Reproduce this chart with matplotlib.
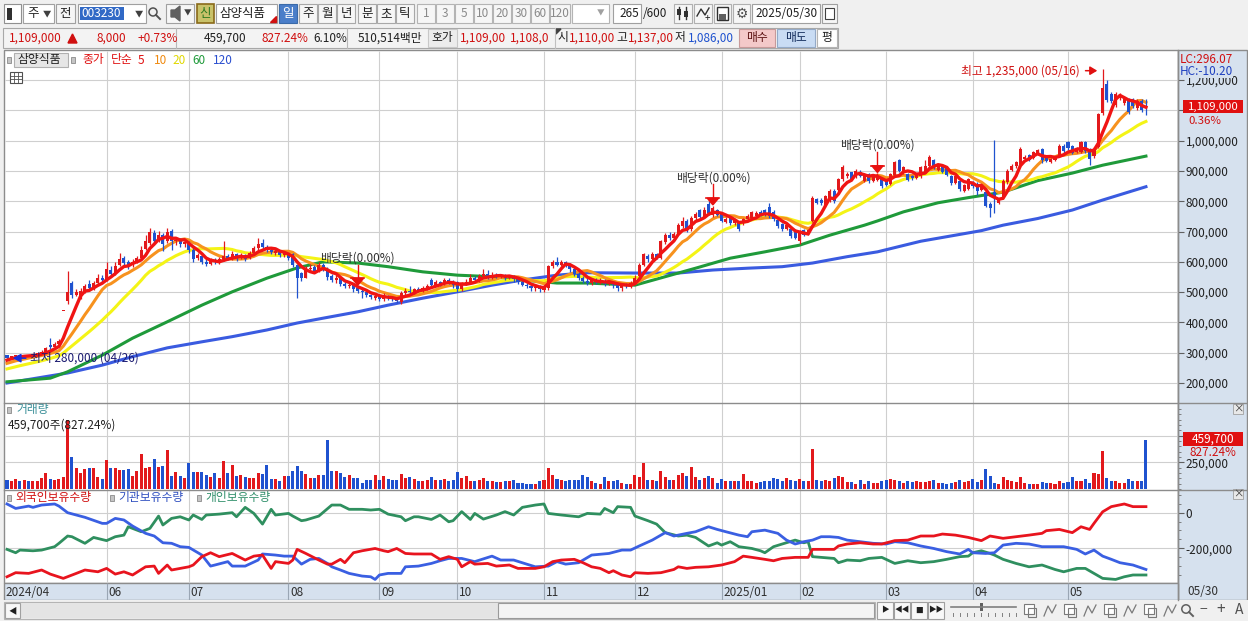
import numpy as np
import pandas as pd
import matplotlib
matplotlib.use("Agg")
import matplotlib.pyplot as plt
from matplotlib.patches import Rectangle, Polygon, Circle

plt.rcParams['font.family'] = ['Noto Sans CJK KR', 'DejaVu Sans']
plt.rcParams['font.size'] = 8.5

# ---------------- data (prices in thousand won, volume in thousand shares) ----------------
stock_name = '삼양식품'
stock_code = '003230'
chart_date = '2025/05/30'

prior_close = [215, 220, 218, 225, 228, 232, 230, 236, 240, 238,
               245, 250, 256, 262, 258, 265, 270, 276, 282]

open_ = [292, 284, 288, 291, 288, 292, 290, 294, 297, 303,
         325, 318, 330, 439, 470, 530, 492, 485, 503, 528,
         512, 530, 548, 540, 572, 562, 590, 612, 600, 588,
         600, 612, 642, 662, 695, 672, 688, 668, 702, 668,
         672, 660, 662, 640, 612, 620, 600, 592, 605, 598,
         608, 620, 612, 625, 612, 622, 612, 628, 645, 662,
         648, 640, 630, 634, 622, 626, 625, 590, 562, 548,
         575, 582, 572, 590, 578, 552, 540, 546, 528, 520,
         525, 512, 505, 500, 490, 480, 488, 478, 486, 480,
         478, 468, 498, 505, 500, 510, 506, 515, 540, 525,
         532, 528, 540, 535, 535, 510, 528, 535, 548, 540,
         552, 560, 548, 558, 552, 556, 548, 552, 542, 535,
         525, 520, 512, 518, 508, 512, 585, 598, 590, 598,
         590, 575, 560, 545, 538, 530, 540, 532, 538, 528,
         535, 522, 515, 525, 520, 530, 552, 590, 620, 608,
         625, 612, 665, 690, 680, 692, 718, 735, 708, 745,
         770, 748, 792, 755, 770, 762, 733, 745, 728, 730,
         727, 740, 745, 750, 765, 770, 780, 765, 738, 725,
         710, 710, 705, 670, 705, 692, 735, 808, 805, 785,
         800, 835, 838, 872, 882, 895, 882, 898, 866, 890,
         868, 870, 875, 868, 858, 888, 935, 895, 890, 884,
         876, 882, 898, 915, 935, 904, 918, 913, 885, 860,
         868, 835, 842, 862, 858, 838, 830, 792, 830, 794,
         810, 862, 904, 915, 916, 938, 952, 942, 958, 972,
         946, 931, 937, 952, 984, 995, 983, 963, 964, 995,
         972, 948, 980, 1090, 1188, 1155, 1118, 1140, 1124, 1138,
         1138, 1107, 1132, 1110]

close = [284, 288, 290, 287, 292, 290, 294, 297, 303, 315,
         318, 330, 338, 439, 500, 490, 502, 505, 520, 512,
         530, 545, 540, 575, 560, 585, 608, 595, 585, 600,
         612, 640, 670, 700, 670, 690, 660, 700, 668, 672,
         660, 665, 640, 610, 622, 598, 592, 605, 598, 608,
         620, 612, 625, 612, 622, 610, 628, 645, 660, 648,
         640, 632, 635, 622, 628, 612, 590, 548, 545, 575,
         580, 570, 588, 578, 550, 540, 548, 528, 520, 525,
         510, 505, 500, 490, 485, 488, 478, 485, 480, 478,
         470, 498, 505, 500, 510, 505, 515, 520, 525, 532,
         528, 540, 535, 522, 510, 528, 535, 548, 540, 552,
         560, 548, 558, 552, 556, 548, 552, 542, 535, 525,
         520, 512, 518, 510, 515, 585, 598, 590, 600, 590,
         575, 560, 545, 538, 530, 540, 532, 538, 528, 535,
         522, 515, 525, 520, 530, 548, 590, 625, 608, 625,
         615, 668, 690, 680, 692, 722, 736, 705, 745, 758,
         748, 772, 762, 778, 756, 735, 742, 728, 737, 708,
         742, 752, 763, 762, 758, 756, 750, 740, 718, 708,
         720, 685, 680, 700, 690, 705, 812, 795, 795, 818,
         835, 800, 873, 912, 890, 872, 900, 885, 890, 866,
         885, 885, 850, 855, 890, 928, 900, 912, 870, 876,
         888, 912, 918, 946, 910, 918, 898, 888, 860, 884,
         840, 852, 875, 850, 835, 852, 785, 778, 815, 803,
         868, 900, 918, 928, 972, 946, 937, 962, 968, 937,
         932, 940, 946, 984, 965, 976, 960, 973, 995, 965,
         938, 972, 1088, 1175, 1135, 1130, 1155, 1152, 1138, 1095,
         1115, 1132, 1101, 1109]

high = [294, 290, 293, 292, 294, 294, 296, 300, 308, 318,
        348, 335, 345, 439, 571, 536, 510, 515, 528, 540,
        538, 560, 556, 600, 585, 598, 628, 618, 606, 610,
        620, 652, 690, 712, 705, 702, 695, 712, 710, 680,
        678, 672, 668, 645, 630, 626, 608, 612, 612, 615,
        670, 626, 635, 630, 628, 626, 636, 652, 678, 675,
        655, 645, 642, 640, 633, 630, 628, 592, 566, 585,
        592, 590, 598, 596, 582, 560, 556, 550, 535, 532,
        530, 520, 512, 505, 495, 495, 492, 498, 490, 486,
        484, 505, 512, 520, 515, 518, 520, 526, 548, 540,
        538, 548, 548, 540, 538, 535, 542, 560, 552, 560,
        575, 572, 566, 562, 560, 560, 558, 556, 546, 540,
        530, 525, 524, 522, 522, 590, 605, 615, 606, 602,
        595, 580, 565, 552, 545, 548, 548, 545, 542, 540,
        538, 528, 530, 530, 536, 555, 596, 630, 626, 632,
        630, 672, 695, 698, 700, 728, 749, 740, 750, 765,
        776, 780, 800, 785, 775, 765, 748, 750, 742, 734,
        746, 758, 768, 768, 770, 774, 795, 770, 742, 728,
        724, 714, 710, 706, 710, 710, 818, 812, 810, 822,
        840, 840, 878, 920, 896, 898, 905, 902, 894, 894,
        890, 892, 878, 872, 894, 932, 938, 916, 894, 888,
        892, 916, 935, 952, 940, 922, 922, 916, 888, 888,
        872, 856, 878, 866, 862, 856, 834, 796, 1002, 808,
        872, 905, 922, 932, 978, 952, 956, 966, 972, 976,
        950, 944, 950, 988, 988, 998, 986, 978, 1000, 998,
        976, 978, 1092, 1235, 1200, 1160, 1160, 1158, 1145, 1142,
        1142, 1138, 1136, 1137]

low = [280, 282, 286, 285, 286, 288, 289, 292, 295, 301,
       312, 316, 326, 439, 462, 482, 486, 478, 498, 505,
       508, 525, 532, 536, 550, 558, 585, 590, 578, 583,
       596, 608, 638, 655, 662, 665, 636, 662, 640, 655,
       650, 648, 630, 600, 605, 594, 585, 588, 593, 594,
       602, 605, 606, 602, 608, 604, 608, 622, 640, 640,
       632, 625, 622, 615, 616, 605, 582, 482, 538, 545,
       568, 562, 566, 570, 540, 532, 530, 520, 512, 514,
       502, 498, 480, 484, 478, 474, 470, 472, 474, 470,
       465, 460, 492, 495, 495, 500, 500, 508, 520, 520,
       520, 524, 528, 515, 502, 505, 522, 530, 534, 535,
       548, 542, 542, 545, 545, 540, 542, 535, 528, 520,
       512, 505, 505, 500, 502, 508, 580, 585, 585, 582,
       568, 552, 540, 530, 522, 525, 526, 528, 520, 522,
       515, 505, 505, 512, 515, 526, 550, 585, 598, 604,
       608, 608, 660, 672, 675, 688, 712, 698, 702, 735,
       742, 744, 754, 748, 750, 730, 728, 722, 722, 702,
       722, 736, 740, 745, 752, 750, 744, 735, 712, 702,
       705, 680, 675, 660, 685, 688, 730, 790, 788, 780,
       796, 795, 832, 868, 876, 866, 878, 880, 862, 860,
       864, 866, 845, 850, 855, 884, 896, 890, 866, 870,
       872, 878, 894, 910, 905, 900, 893, 884, 855, 856,
       835, 830, 838, 845, 820, 834, 780, 748, 760, 790,
       806, 858, 900, 910, 912, 934, 932, 938, 954, 925,
       928, 926, 932, 948, 960, 970, 955, 958, 960, 960,
       920, 944, 976, 1085, 1128, 1124, 1112, 1135, 1118, 1088,
       1108, 1102, 1096, 1086]

volume = [85, 70, 90, 75, 85, 70, 75, 75, 100, 145,
          95, 85, 95, 110, 650, 300, 195, 150, 190, 200,
          195, 110, 90, 270, 195, 200, 180, 175, 190, 125,
          165, 330, 195, 210, 280, 205, 213, 365, 120, 160,
          120, 105, 240, 160, 160, 160, 130, 110, 145, 100,
          260, 150, 225, 125, 130, 115, 100, 100, 150, 140,
          225, 95, 95, 70, 120, 120, 165, 220, 170, 140,
          100, 100, 135, 135, 460, 165, 165, 145, 110, 130,
          100, 100, 60, 80, 85, 130, 85, 125, 90, 80,
          85, 140, 100, 110, 90, 72, 72, 87, 111, 81,
          81, 93, 72, 87, 162, 102, 123, 78, 78, 87,
          105, 72, 72, 63, 63, 72, 72, 81, 57, 57,
          48, 42, 48, 78, 87, 195, 132, 93, 87, 72,
          87, 87, 81, 132, 111, 72, 57, 51, 111, 72,
          72, 87, 57, 48, 48, 132, 111, 243, 87, 87,
          72, 168, 111, 87, 81, 132, 153, 123, 207, 111,
          81, 102, 117, 102, 57, 93, 78, 78, 78, 78,
          141, 72, 72, 57, 63, 78, 78, 102, 93, 72,
          102, 81, 72, 93, 72, 72, 372, 87, 78, 81,
          72, 102, 123, 111, 63, 63, 48, 87, 42, 72,
          57, 57, 72, 81, 93, 87, 78, 57, 72, 66,
          72, 63, 63, 78, 87, 57, 57, 51, 57, 63,
          87, 63, 72, 93, 63, 81, 183, 117, 57, 42,
          111, 87, 72, 63, 111, 57, 51, 42, 48, 63,
          57, 57, 48, 72, 57, 63, 111, 78, 72, 96,
          57, 153, 141, 357, 102, 72, 78, 57, 57, 96,
          72, 78, 72, 460]

ma60_idx = [0, 10, 14, 22, 29, 37, 45, 52, 60, 67, 73, 81, 88, 96, 104, 112, 119, 127,
            134, 145, 152, 159, 167, 175, 183, 190, 198, 201, 207, 215, 222, 230, 238,
            246, 253, 263]
ma60_val = [204, 216, 237, 292, 348, 402, 457, 501, 546, 580, 600, 596, 584, 567, 556,
            551, 540, 530, 530, 523, 551, 579, 612, 633, 655, 688, 721, 735, 765, 795,
            812, 830, 868, 893, 919, 949]
ma120_idx = [0, 14, 22, 29, 37, 45, 52, 60, 67, 73, 81, 88, 96, 104, 112, 119, 127, 134,
             145, 155, 163, 171, 179, 186, 194, 201, 211, 225, 230, 238, 246, 253, 263]
ma120_val = [200, 233, 259, 287, 316, 336, 353, 375, 398, 414, 435, 457, 480, 501, 523,
             540, 556, 564, 563, 563, 573, 579, 584, 596, 617, 633, 668, 703, 721, 743,
             771, 804, 848]

# investor holdings (thousand shares)
frgn_idx = [0, 2, 5, 8, 10, 13, 16, 18, 21, 23, 25, 27, 29, 32, 34, 35, 37, 38, 42, 43,
            45, 47, 49, 52, 55, 57, 59, 61, 62, 65, 66, 67, 69, 72, 74, 75, 77, 78, 80, 82,
            85, 87, 88, 90, 92, 94, 95, 98, 100, 102, 104, 105, 107, 108, 111, 113, 116, 118, 120, 122,
            124, 126, 128, 131, 133, 135, 137, 139, 140, 142, 144, 145, 148, 151, 154, 155, 157, 159, 162, 165,
            168, 170, 172, 175, 177, 179, 182, 185, 186, 188, 191, 192, 194, 197, 200, 202, 205, 208, 211, 214,
            216, 219, 222, 225, 227, 230, 233, 236, 239, 240, 243, 246, 248, 250, 251, 253, 255, 258, 260, 263]
frgn_val = [-360, -337, -341, -322, -345, -369, -341, -322, -332, -313,
            -345, -332, -350, -304, -300, -341, -294, -322, -304, -294,
            -247, -225, -247, -229, -266, -244, -238, -313, -275, -285,
            -266, -206, -229, -266, -289, -289, -262, -281, -225, -214,
            -201, -214, -219, -201, -229, -232, -232, -232, -262, -247,
            -262, -304, -275, -289, -285, -300, -294, -313, -313, -313,
            -304, -275, -266, -262, -281, -304, -313, -337, -326, -350,
            -360, -337, -341, -337, -319, -304, -313, -307, -304, -294,
            -275, -244, -251, -262, -270, -257, -251, -251, -206, -206,
            -206, -187, -176, -169, -176, -176, -157, -154, -131, -131,
            -120, -126, -139, -157, -131, -144, -135, -126, -116, -101,
            -94, -112, -79, -94, -60, 5, 34, 49, 34, 34]
inst_idx = [0, 2, 5, 6, 8, 11, 12, 14, 16, 18, 22, 23, 25, 27, 29, 32, 34, 36, 38, 40,
            42, 45, 47, 48, 51, 52, 55, 58, 59, 62, 64, 66, 68, 70, 72, 74, 75, 77, 79, 82,
            84, 85, 86, 88, 91, 92, 95, 98, 100, 102, 105, 108, 112, 114, 117, 120, 122, 125, 127, 129,
            132, 135, 139, 142, 144, 146, 149, 152, 154, 157, 159, 162, 164, 166, 169, 171, 172, 175, 178, 180,
            182, 184, 186, 188, 190, 192, 194, 197, 200, 203, 205, 208, 211, 214, 217, 220, 222, 223, 226, 228,
            230, 233, 236, 239, 242, 244, 247, 249, 251, 253, 255, 257, 260, 263]
inst_val = [49, 24, 37, 30, 43, 49, 37, 0, -13, -26,
            -60, -60, -32, -41, -75, -116, -131, -169, -172, -191,
            -195, -238, -300, -294, -275, -300, -300, -266, -232, -238,
            -244, -244, -289, -262, -257, -285, -304, -322, -341, -356,
            -360, -375, -350, -341, -341, -304, -300, -285, -270, -257,
            -257, -275, -244, -266, -266, -289, -304, -300, -275, -289,
            -281, -238, -229, -210, -210, -187, -154, -112, -131, -116,
            -107, -79, -94, -107, -126, -135, -107, -98, -116, -154,
            -176, -163, -154, -135, -135, -139, -154, -163, -172, -176,
            -163, -169, -187, -201, -219, -232, -206, -225, -229, -225,
            -182, -172, -176, -191, -191, -191, -206, -232, -210, -244,
            -262, -281, -294, -319]
indiv_idx = [0, 2, 3, 6, 8, 11, 12, 14, 15, 18, 20, 23, 25, 27, 28, 31, 33, 35, 36, 38,
             40, 42, 43, 45, 46, 49, 52, 53, 55, 57, 59, 61, 62, 65, 66, 68, 69, 72, 75, 77,
             79, 82, 84, 86, 88, 91, 92, 94, 95, 98, 100, 102, 103, 105, 107, 108, 110, 113, 115, 117,
             119, 122, 124, 125, 128, 132, 134, 137, 138, 140, 141, 144, 145, 148, 150, 152, 155, 157, 159, 162,
             164, 165, 167, 169, 172, 174, 175, 177, 179, 182, 184, 185, 186, 188, 191, 192, 194, 197, 199, 202,
             205, 208, 211, 214, 217, 220, 222, 223, 225, 227, 228, 230, 233, 236, 239, 242, 244, 247, 249, 251,
             253, 256, 258, 260, 263]
indiv_val = [-206, -225, -210, -214, -210, -191, -172, -131, -135, -172,
             -139, -157, -135, -126, -79, -107, -88, -19, -69, -32,
             -23, -41, -13, -38, -13, -8, 0, -23, 30, -4,
             -64, 19, -13, -4, -19, -45, -41, -19, 43, 43,
             19, 19, 15, 19, -8, -23, -45, -23, -23, -38,
             -13, -51, -45, 6, -38, -4, -36, -13, 6, -13,
             30, 43, 49, -4, -13, -23, -4, -8, 24, 0,
             34, 30, -19, -45, -64, -112, -131, -126, -139, -187,
             -169, -182, -163, -191, -201, -214, -225, -191, -176, -154,
             -169, -163, -247, -251, -257, -281, -266, -270, -257, -251,
             -285, -270, -281, -275, -262, -247, -244, -225, -214, -229,
             -238, -262, -285, -304, -294, -319, -332, -313, -313, -341,
             -369, -375, -360, -350, -350]

month_idx = [23, 42, 65, 86, 104, 124, 145, 165, 183, 203, 223, 245]
month_lbl = ['06', '07', '08', '09', '10', '11', '12', '2025/01', '02', '03', '04', '05']
first_lbl = '2024/04'
last_lbl = '05/30'
div_idx = [81, 163, 201]
div_lbl = '배당락(0.00%)'
hi_idx, hi_date = 253, '05/16'
lo_idx, lo_date = 0, '04/26'

# ---------------- colours ----------------
C_UP, C_DN = '#e2191c', '#1f52cf'
C_MA5, C_MA10, C_MA20, C_MA60, C_MA120 = '#f01414', '#f7921e', '#f4f416', '#1f9a3a', '#3a5be0'
C_FR, C_IN, C_IV = '#e8141e', '#3a5fe2', '#2f8f5f'
GRID = '#cfcfcf'
PANEL = '#d6e1ee'

# ---------------- figure ----------------
W, H = 1248, 621
fig = plt.figure(figsize=(W / 100, H / 100), dpi=100)
fig.patch.set_facecolor('#f0f0f0')


def R(x0, y0, x1, y1):
    return [x0 / W, 1 - y1 / H, (x1 - x0) / W, (y1 - y0) / H]


def pix_axes(z):
    a = fig.add_axes([0, 0, 1, 1], zorder=z)
    a.set_xlim(0, W)
    a.set_ylim(H, 0)
    a.axis('off')
    return a


ui = pix_axes(0)


def box(a, x0, y0, x1, y1, fc='white', ec='#a8a8a8', lw=0.8, z=1, **kw):
    a.add_patch(Rectangle((x0, y0), x1 - x0, y1 - y0, facecolor=fc, edgecolor=ec,
                          linewidth=lw, zorder=z, **kw))


def tx(a, x, y, s, c='#202020', size=8.5, ha='left', va='center', **kw):
    a.text(x, y, s, color=c, fontsize=size, ha=ha, va=va, **kw)


# backgrounds
box(ui, 4, 50, 1178, 583, fc='white', ec='#8c8c8c', lw=1)
box(ui, 1178, 50, 1247, 600, fc=PANEL, ec='#8c8c8c', lw=1)
box(ui, 4, 583, 1178, 600, fc=PANEL, ec='#8c8c8c', lw=1)

XL, XR = -0.46, 270.4
n = len(close)
idx = np.arange(n)
o = np.array(open_, float)
c = np.array(close, float)
h = np.array(high, float)
l = np.array(low, float)
up = c >= o
cols = np.where(up, C_UP, C_DN)


def prep(a):
    a.set_facecolor('none')
    for s in a.spines.values():
        s.set_visible(False)
    a.set_xlim(XL, XR)
    a.set_xticks([])


# ---------------- price panel ----------------
axp = fig.add_axes(R(5, 51, 1178, 403), zorder=2)
prep(axp)
axp.set_ylim(134, 1296)
ticks = list(range(200, 1300, 100))
axp.yaxis.tick_right()
axp.set_yticks(ticks)
# the 1,100,000 label sits under the current-price box in the reference
axp.set_yticklabels(['' if v == 1100 else f"{v * 1000:,}" for v in ticks])
axp.tick_params(axis='y', direction='out', length=4, width=0.8, color='#606060',
                labelcolor='#202020', labelsize=8.5, pad=1.5)
axp.hlines(ticks, XL, XR, color=GRID, lw=0.8, zorder=0)
axp.vlines(month_idx, 134, 1296, color=GRID, lw=0.8, zorder=0)

full = pd.Series(prior_close + close, dtype=float)


def sma(k):
    return full.rolling(k).mean().to_numpy()[len(prior_close):]


axp.plot(ma120_idx, ma120_val, color=C_MA120, lw=2.2, zorder=2)
axp.plot(ma60_idx, ma60_val, color=C_MA60, lw=2.2, zorder=2)
axp.plot(idx, sma(20), color=C_MA20, lw=2.2, zorder=2.1)
axp.plot(idx, sma(10), color=C_MA10, lw=2.2, zorder=2.2)
axp.vlines(idx, l, h, colors=cols, lw=0.9, zorder=3)
axp.bar(idx, np.maximum(np.abs(c - o), 3.5), bottom=np.minimum(o, c), width=0.7,
        color=cols, linewidth=0, zorder=3)
axp.plot(idx, sma(5), color=C_MA5, lw=2.4, zorder=4)

# dividend markers
for d in div_idx:
    tip = h[d] + 3
    axp.plot([d, d], [tip + 68, tip + 8], color='#e81010', lw=1.0, zorder=6)
    axp.add_patch(Polygon([[d - 1.3, tip + 22], [d + 1.3, tip + 22], [d, tip]],
                          closed=True, color='#e81010', zorder=6))
    axp.plot([d - 1.5, d + 1.5], [tip + 22, tip + 22], color='#e81010', lw=1.2, zorder=6)
    axp.text(d, tip + 89, div_lbl, color='#303030', fontsize=8.5, ha='center',
             va='center', zorder=7)

# high / low labels
hv = h[hi_idx]
axp.annotate('', xy=(hi_idx - 0.6, hv - 4), xytext=(hi_idx - 4.6, hv - 4),
             arrowprops=dict(arrowstyle='-|>,head_length=0.5,head_width=0.3',
                             color='#e01010', lw=1.1), zorder=7)
axp.text(hi_idx - 5.3, hv - 4, f"최고 {int(hv * 1000):,} ({hi_date})", color='#d01010',
         fontsize=8.5, ha='right', va='center', zorder=7)
lv = l[lo_idx]
axp.annotate('', xy=(lo_idx + 0.7, lv + 2), xytext=(lo_idx + 5.0, lv + 2),
             arrowprops=dict(arrowstyle='-|>,head_length=0.55,head_width=0.3',
                             color='#1530e0', lw=1.1), zorder=7)
axp.text(lo_idx + 5.3, lv + 2, f"최저 {int(lv * 1000):,} ({lo_date})", color='#1a1a70',
         fontsize=8.5, ha='left', va='center', zorder=7)

# ---------------- volume panel ----------------
axv = fig.add_axes(R(5, 403, 1178, 490), zorder=2)
prep(axv)
axv.set_ylim(-10, 807)
axv.yaxis.tick_right()
axv.set_yticks([250, 500])
axv.set_yticklabels(['250,000', '500,000'])
axv.set_yticks(list(range(0, 800, 50)), minor=True)
axv.tick_params(axis='y', which='major', direction='out', length=4, width=0.8,
                color='#606060', labelcolor='#202020', labelsize=8.5, pad=1.5)
axv.tick_params(axis='y', which='minor', direction='out', length=2, width=0.6, color='#707070')
axv.hlines([250, 500], XL, XR, color=GRID, lw=0.8, zorder=0)
axv.vlines(month_idx, -10, 807, color=GRID, lw=0.8, zorder=0)
axv.bar(idx, volume, width=0.7, color=cols, linewidth=0, zorder=3)

# ---------------- investor panel ----------------
axi = fig.add_axes(R(5, 490, 1178, 583), zorder=2)
prep(axi)
axi.set_ylim(-395, 127.5)
axi.yaxis.tick_right()
axi.set_yticks([0, -200])
axi.set_yticklabels(['0', '-200,000'])
axi.set_yticks(list(range(-350, 101, 50)), minor=True)
axi.tick_params(axis='y', which='major', direction='out', length=4, width=0.8,
                color='#606060', labelcolor='#202020', labelsize=8.5, pad=1.5)
axi.tick_params(axis='y', which='minor', direction='out', length=2, width=0.6, color='#707070')
axi.hlines([0, -200], XL, XR, color=GRID, lw=0.8, zorder=0)
axi.vlines(month_idx, -395, 127.5, color=GRID, lw=0.8, zorder=0)
axi.plot(indiv_idx, indiv_val, color=C_IV, lw=2.0, zorder=3)
axi.plot(inst_idx, inst_val, color=C_IN, lw=2.0, zorder=3)
axi.plot(frgn_idx, frgn_val, color=C_FR, lw=2.0, zorder=3)

# ---------------- x strip ----------------
axx = fig.add_axes(R(5, 583, 1178, 600), zorder=2)
prep(axx)
axx.set_ylim(0, 1)
axx.set_yticks([])
axx.vlines(month_idx, 0, 1, color='#9aa6b4', lw=0.8)
for mi, ml in zip(month_idx, month_lbl):
    axx.text(mi + 0.35, 0.45, ml, color='#303030', fontsize=8.5, ha='left', va='center')
axx.text(XL + 0.2, 0.45, first_lbl, color='#303030', fontsize=8.5, ha='left', va='center')

# ---------------- overlay (chrome, legends, labels) ----------------
ov = pix_axes(5)
ov.plot([4, 1247], [403, 403], color='#8c8c8c', lw=1)
ov.plot([4, 1247], [490, 490], color='#8c8c8c', lw=1)
ov.plot([1178, 1178], [50, 600], color='#8c8c8c', lw=1)

# toolbar row 1
box(ov, 0, 0, W, 26, fc='#f0f0f0', ec='none')
box(ov, 4, 4, 21, 23, fc='white', ec='#909090')
box(ov, 7, 8, 12, 20, fc='#303030', ec='none')
box(ov, 23, 4, 54, 23, fc='white', ec='#a0a0a0')
tx(ov, 27, 13.5, '주', size=9)
tx(ov, 47, 13.5, '▼', size=6, ha='center', c='#404040')
box(ov, 56, 4, 75, 23, fc='#f6f6f6', ec='#a0a0a0')
tx(ov, 65.5, 13.5, '전', size=9, ha='center')
box(ov, 78, 4, 146, 23, fc='white', ec='#a0a0a0')
box(ov, 80, 7, 124, 20, fc='#3169c6', ec='none')
tx(ov, 81, 13.5, stock_code, size=8.5, c='white')
tx(ov, 139, 13.5, '▼', size=6, ha='center', c='#404040')
ov.add_patch(Circle((153, 12), 4, fill=False, ec='#505050', lw=1.1))
ov.plot([156, 160], [15, 19], color='#505050', lw=1.4)
box(ov, 166, 4, 194, 23, fc='#f6f6f6', ec='#a0a0a0')
ov.add_patch(Polygon([[171, 10], [175, 10], [180, 6], [180, 21], [175, 17], [171, 17]],
                     closed=True, color='#606060'))
tx(ov, 188, 14, '▼', size=5.5, ha='center', c='#404040')
box(ov, 197, 4, 214, 23, fc='#c9c26a', ec='#8a6a1a', lw=1.2)
tx(ov, 205.5, 13.5, '신', size=9, ha='center', c='#2d7a1f')
box(ov, 216, 4, 277, 23, fc='white', ec='#a0a0a0')
tx(ov, 219, 13.5, stock_name, size=9)
ov.add_patch(Polygon([[276, 16], [276, 22], [270, 22]], closed=True, color='#d01010'))
box(ov, 279, 4, 297, 23, fc='#4a7ec9', ec='#3a6aa8')
tx(ov, 288, 13.5, '일', size=9, ha='center', c='white')
for (x0, x1, s) in [(299, 317, '주'), (318, 336, '월'), (337, 355, '년'),
                    (358, 376, '분'), (377, 395, '초'), (396, 414, '틱')]:
    box(ov, x0, 4, x1, 23, fc='#f6f6f6', ec='#a8a8a8')
    tx(ov, (x0 + x1) / 2, 13.5, s, size=9, ha='center')
for (x0, x1, s) in [(417, 435, '1'), (436, 454, '3'), (455, 473, '5'), (474, 492, '10'),
                    (493, 511, '20'), (512, 530, '30'), (531, 549, '60'), (550, 570, '120')]:
    box(ov, x0, 4, x1, 23, fc='#f6f6f6', ec='#b4b4b4')
    tx(ov, (x0 + x1) / 2, 13.5, s, size=8.5, ha='center', c='#8a8a8a')
box(ov, 572, 4, 609, 23, fc='white', ec='#b4b4b4')
tx(ov, 601, 13.5, '▼', size=5.5, ha='center', c='#a0a0a0')
box(ov, 613, 4, 641, 23, fc='white', ec='#a0a0a0')
tx(ov, 639, 13.5, '265', size=8.5, ha='right')
tx(ov, 643, 13.5, '/600', size=8.5)
box(ov, 674, 4, 692, 23, fc='#f6f6f6', ec='#b0b0b0')
ov.plot([679, 679], [7, 19], color='#303030', lw=1)
ov.plot([686, 686], [7, 19], color='#303030', lw=1)
box(ov, 677, 9, 681, 15, fc='#303030', ec='none')
box(ov, 684, 11, 688, 17, fc='#303030', ec='none')
box(ov, 694, 4, 712, 23, fc='#f6f6f6', ec='#b0b0b0')
ov.plot([697, 701, 705, 709], [16, 9, 15, 8], color='#303030', lw=1)
tx(ov, 707, 18, '+', size=7, ha='center')
box(ov, 714, 4, 731, 23, fc='#f6f6f6', ec='#b0b0b0')
box(ov, 717, 7, 728, 20, fc='white', ec='#303030', lw=1)
box(ov, 719, 14, 726, 20, fc='#606060', ec='none')
box(ov, 733, 4, 750, 23, fc='#f6f6f6', ec='#b0b0b0')
ov.text(741.5, 13.5, '⚙', fontsize=10, ha='center', va='center', color='#505050',
        family='DejaVu Sans')
box(ov, 752, 4, 820, 23, fc='white', ec='#a0a0a0')
tx(ov, 755, 13.5, chart_date, size=8.5)
box(ov, 822, 4, 837, 23, fc='#f6f6f6', ec='#a0a0a0')
box(ov, 825, 8, 834, 19, fc='white', ec='#404040', lw=0.8)

# toolbar row 2
box(ov, 3, 28, 838, 48, fc='#f3f3f3', ec='#a8a8a8')
ov.plot([176, 176], [28, 48], color='#b8b8b8', lw=0.8)
ov.plot([347, 347], [28, 48], color='#b8b8b8', lw=0.8)
tx(ov, 9, 38, '1,109,000', c='#d01010', size=8.5)
ov.add_patch(Polygon([[68, 43], [77, 43], [72.5, 34]], closed=True, color='#d01010'))
tx(ov, 126, 38, '8,000', c='#d01010', size=8.5, ha='right')
tx(ov, 138, 38, '+0.73%', c='#d01010', size=8.5)
tx(ov, 246, 38, '459,700', size=8.5, ha='right')
tx(ov, 262, 38, '827.24%', c='#d01010', size=8.5)
tx(ov, 313, 38, '6.10%', size=8.5)
tx(ov, 358, 38, '510,514백만', size=8.5)
box(ov, 428, 29, 457, 47, fc='#ececec', ec='#c8c8c8')
tx(ov, 431, 38, '호가', size=8.5)
tx(ov, 460, 38, '1,109,00', c='#d01010', size=8.5)
tx(ov, 510, 38, '1,108,0', c='#d01010', size=8.5)
ov.plot([555, 555], [28, 48], color='#c0c0c0', lw=0.8)
ov.add_patch(Polygon([[556, 29], [561, 29], [556, 34]], closed=True, color='#404040'))
tx(ov, 557, 38, '시', size=8.5)
tx(ov, 569, 38, '1,110,00', c='#d01010', size=8.5)
tx(ov, 616, 38, '고', size=8.5)
tx(ov, 628, 38, '1,137,00', c='#d01010', size=8.5)
tx(ov, 675, 38, '저', size=8.5)
tx(ov, 688, 38, '1,086,00', c='#1f52cf', size=8.5)
box(ov, 739, 29, 775, 47, fc='#f4c9c9', ec='#c89a9a')
tx(ov, 757, 38, '매수', size=8.5, ha='center', c='#5a1010')
box(ov, 777, 29, 815, 47, fc='#c9dcf4', ec='#94aac8')
tx(ov, 796, 38, '매도', size=8.5, ha='center', c='#102a5a')
box(ov, 817, 29, 837, 47, fc='white', ec='#b4b4b4')
tx(ov, 827, 38, '평', size=8.5, ha='center')

# price panel legend
box(ov, 7, 57, 11, 63, fc='#c4c4c4', ec='#8a8a8a', lw=0.6)
box(ov, 14, 53, 68, 67, fc='#e6e6e6', ec='#b0b0b0', lw=0.8)
tx(ov, 17, 60, stock_name, size=8.5)
box(ov, 71, 57, 75, 63, fc='#c4c4c4', ec='#8a8a8a', lw=0.6)
tx(ov, 82, 60, '종가', c='#e01010', size=8.5)
tx(ov, 111, 60, '단순', c='#e01010', size=8.5)
tx(ov, 138, 60, '5', c='#e01010', size=8.5)
tx(ov, 154, 60, '10', c='#f08a10', size=8.5)
tx(ov, 172, 60, '20', c='#e0d800', size=8.5)
tx(ov, 192, 60, '60', c='#1f9a3a', size=8.5)
tx(ov, 213, 60, '120', c='#2a4fd0', size=8.5)
box(ov, 10, 72, 22, 83, fc='white', ec='#505050', lw=0.8)
for k in range(1, 3):
    ov.plot([10 + 4 * k, 10 + 4 * k], [72, 83], color='#505050', lw=0.6)
    ov.plot([10, 22], [72 + 3.7 * k, 72 + 3.7 * k], color='#505050', lw=0.6)

# volume legend
box(ov, 7, 407, 11, 413, fc='#c4c4c4', ec='#8a8a8a', lw=0.6)
tx(ov, 16, 410, '거래량', c='#3a8f98', size=8.5)
tx(ov, 8, 425, '459,700주(827.24%)', size=8.5)

# investor legend
box(ov, 7, 495, 11, 501, fc='#c4c4c4', ec='#8a8a8a', lw=0.6)
tx(ov, 15, 498, '외국인보유수량', c='#d01010', size=8.5)
box(ov, 110, 495, 114, 501, fc='#c4c4c4', ec='#8a8a8a', lw=0.6)
tx(ov, 118, 498, '기관보유수량', c='#2f4fc0', size=8.5)
box(ov, 197, 495, 201, 501, fc='#c4c4c4', ec='#8a8a8a', lw=0.6)
tx(ov, 205, 498, '개인보유수량', c='#2f8f6a', size=8.5)

# right axis extras
tx(ov, 1180, 59.5, 'LC:296.07', c='#d01010', size=8.5)
ov.text(1180, 71.5, 'HC:-10.20', color='#1f40c0', fontsize=8.5, ha='left', va='center',
        bbox=dict(facecolor=PANEL, edgecolor='none', pad=0.2))
box(ov, 1183, 100, 1243, 113, fc='#e01010', ec='none')
tx(ov, 1213, 106.5, '1,109,000', c='white', size=8.2, ha='center')
tx(ov, 1188, 121, '0.36%', c='#d01010', size=8.2)
box(ov, 1183, 432, 1243, 446, fc='#e01010', ec='none')
tx(ov, 1213, 439, '459,700', c='white', size=8.5, ha='center')
tx(ov, 1189, 452, '827.24%', c='#d01010', size=8.5)
for yy in (409, 494):
    box(ov, 1233, yy - 5, 1243, yy + 5, fc='#e8e8e8', ec='#a0a0a0', lw=0.6)
    tx(ov, 1238, yy, '×', size=7.5, ha='center', c='#404040')
tx(ov, 1187, 591.5, last_lbl, c='#303030', size=8.5)

# bottom bar
box(ov, 0, 600, W, H, fc='#f0f0f0', ec='none')
box(ov, 4, 602, 875, 619, fc='#ececec', ec='#b4b4b4')
box(ov, 20, 603, 498, 618, fc='#e4e4e4', ec='none', hatch='....')
box(ov, 5, 603, 20, 618, fc='#f8f8f8', ec='#a0a0a0')
tx(ov, 12.5, 610.5, '◀', size=6, ha='center', c='#202020')
box(ov, 498, 603, 874, 618, fc='#f4f4f4', ec='#9a9a9a')
for (x0, x1, s) in [(877, 893, '▶'), (894, 910, '◀◀'), (911, 927, '■'), (928, 944, '▶▶')]:
    box(ov, x0, 602, x1, 619, fc='#f8f8f8', ec='#a0a0a0')
    tx(ov, (x0 + x1) / 2, 610.5, s, size=5.5, ha='center', c='#202020')
ov.plot([951, 1016], [607, 607], color='#808080', lw=1.2)
box(ov, 980, 603, 983, 611, fc='#606060', ec='none')
for k in range(10):
    ov.plot([953 + 7 * k, 953 + 7 * k], [613, 616], color='#808080', lw=0.7)
icon_x = [1030, 1050, 1070, 1090, 1110, 1130, 1150, 1170]
for k, xx in enumerate(icon_x):
    if k % 2 == 0:
        box(ov, xx - 6, 604, xx + 4, 614, fc='white', ec='#7a7a7a', lw=0.8)
        box(ov, xx - 2, 608, xx + 6, 617, fc='none', ec='#7a7a7a', lw=0.8)
    else:
        ov.plot([xx - 6, xx - 2, xx + 2, xx + 6], [616, 606, 613, 605], color='#7a7a7a', lw=0.9)
ov.add_patch(Circle((1186, 609), 4.2, fill=False, ec='#606060', lw=1.1))
ov.plot([1189, 1193], [612, 616], color='#606060', lw=1.4)
tx(ov, 1203, 610, '−', size=10, ha='center', c='#505050')
tx(ov, 1221, 610, '+', size=11, ha='center', c='#505050')
tx(ov, 1239, 610, 'A', size=10, ha='center', c='#505050')

fig.savefig('out.png', dpi=100, facecolor=fig.get_facecolor())
